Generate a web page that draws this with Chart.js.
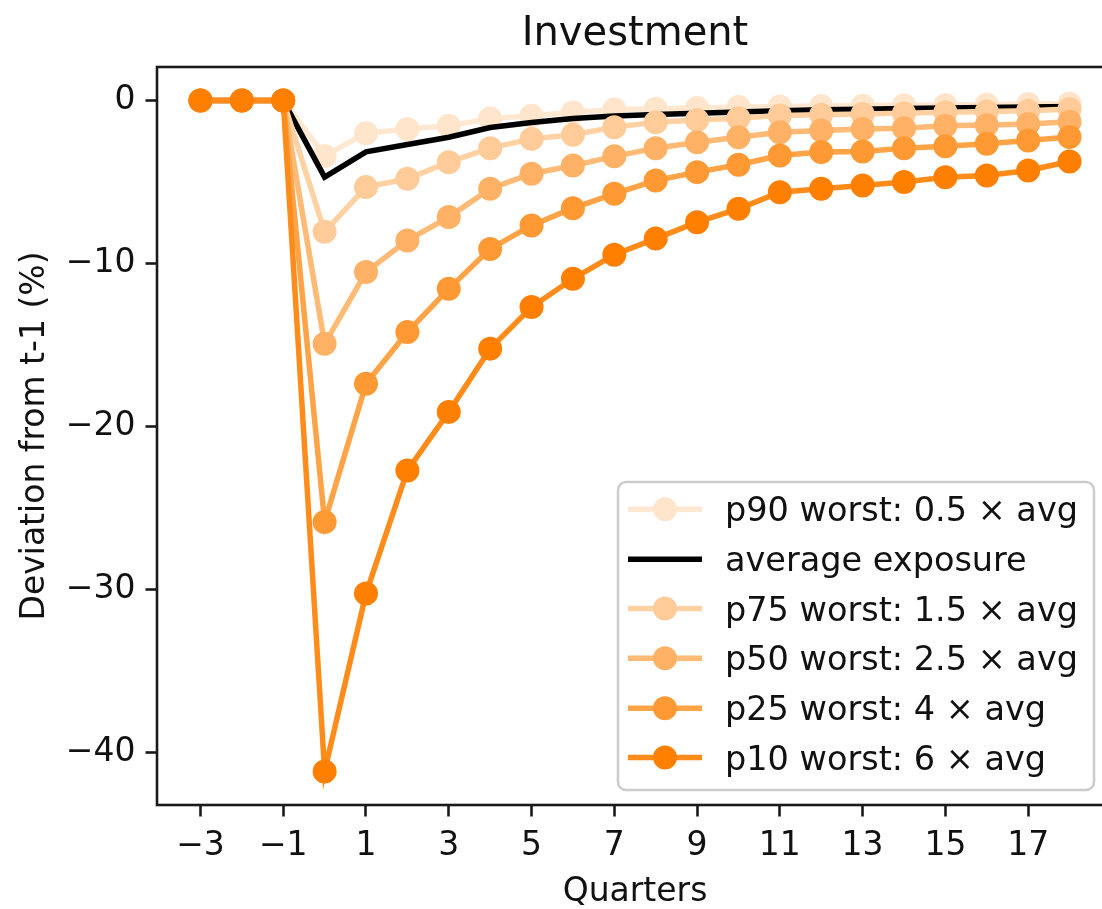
<!DOCTYPE html>
<html>
<head>
<meta charset="utf-8">
<script src="https://cdn.jsdelivr.net/npm/chart.js@4/dist/chart.umd.min.js"></script>
<style>
  html, body { margin: 0; padding: 0; background: #ffffff; overflow: hidden; }
  #wrap { width: 1140px; height: 909px; }
</style>
</head>
<body>
<div id="wrap"><canvas id="c" width="1140" height="909"></canvas></div>
<script>
// ---- data ----
const quarters = [-3, -2, -1, 0, 1, 2, 3, 4, 5, 6, 7, 8, 9, 10, 11, 12, 13, 14, 15, 16, 17, 18];
const p90 = [0, 0, 0, -3.4, -2.0, -1.75, -1.55, -1.1, -0.93, -0.73, -0.55, -0.5, -0.45, -0.4, -0.37, -0.34, -0.31, -0.29, -0.27, -0.24, -0.21, -0.18];
const avgExposure = [0, 0, 0, -4.7, -3.15, -2.7, -2.25, -1.65, -1.34, -1.1, -0.95, -0.86, -0.78, -0.7, -0.62, -0.57, -0.53, -0.49, -0.46, -0.43, -0.4, -0.36];
const p75 = [0, 0, 0, -8.05, -5.31, -4.8, -3.78, -2.92, -2.35, -2.1, -1.63, -1.33, -1.19, -1.08, -0.92, -0.87, -0.82, -0.77, -0.72, -0.67, -0.62, -0.52];
const p50 = [0, 0, 0, -14.92, -10.52, -8.58, -7.15, -5.41, -4.49, -3.99, -3.42, -2.92, -2.56, -2.25, -1.95, -1.84, -1.74, -1.7, -1.54, -1.5, -1.44, -1.3];
const p25 = [0, 0, 0, -25.85, -17.37, -14.2, -11.55, -9.1, -7.66, -6.6, -5.72, -4.9, -4.39, -3.94, -3.37, -3.16, -3.13, -2.92, -2.8, -2.65, -2.45, -2.24];
const p10 = [0, 0, 0, -41.16, -30.25, -22.69, -19.1, -15.22, -12.67, -10.93, -9.46, -8.47, -7.46, -6.64, -5.62, -5.41, -5.21, -5.0, -4.7, -4.6, -4.29, -3.74];
const xTicks = [-3, -1, 1, 3, 5, 7, 9, 11, 13, 15, 17];
const yTicks = [0, -10, -20, -30, -40];
const seriesLabels = ['p90 worst: 0.5 \u00d7 avg', 'average exposure', 'p75 worst: 1.5 \u00d7 avg', 'p50 worst: 2.5 \u00d7 avg', 'p25 worst: 4 \u00d7 avg', 'p10 worst: 6 \u00d7 avg'];
const titleText = 'Investment';
const xTitle = 'Quarters';
const yTitle = 'Deviation from t-1 (%)';

// ---- styles ----
const FONT = '"DejaVu Sans", "Liberation Sans", sans-serif';
function orange(a) { // opaque blend of (255,127,0) over white
  const r = 255, g = Math.round(255 - a * 128), b = Math.round(255 - a * 255);
  return `rgb(${r},${g},${b})`;
}
const alphas = [0.2, null, 0.4, 0.6, 0.8, 1.0];
const seriesValues = [p90, avgExposure, p75, p50, p25, p10];
const drawOrder = [5, 4, 3, 2, 1, 0];

const datasets = seriesValues.map((vals, i) => {
  const a = alphas[i];
  const isAvg = a === null;
  const mk = isAvg ? '#000000' : orange(a);
  const ln = isAvg ? '#000000' : orange(a * 0.9);
  return {
    label: seriesLabels[i],
    data: quarters.map((q, k) => ({ x: q, y: vals[k] })),
    borderColor: ln,
    backgroundColor: mk,
    borderWidth: 5.5,
    pointRadius: isAvg ? 0 : 10.5,
    pointBorderWidth: isAvg ? 0 : 3,
    pointBorderColor: mk,
    pointBackgroundColor: mk,
    pointHoverRadius: isAvg ? 0 : 10.5,
    tension: 0,
    fill: false,
    order: drawOrder[i],
    _marker: !isAvg,
    _markerColor: mk
  };
});

const minusFmt = v => (v < 0 ? '\u2212' + Math.abs(v) : String(v));

const decor = {
  id: 'decor',
  beforeDraw(chart) {
    const ctx = chart.ctx;
    ctx.save();
    ctx.fillStyle = '#ffffff';
    ctx.fillRect(0, 0, chart.width, chart.height);
    ctx.restore();
  },
  afterDraw(chart) {
    const ctx = chart.ctx;
    const ca = chart.chartArea;
    ctx.save();
    // spines
    ctx.strokeStyle = '#1a1a1a';
    ctx.lineWidth = 2.6;
    ctx.strokeRect(ca.left, ca.top, ca.right - ca.left, ca.bottom - ca.top);
    // title
    ctx.fillStyle = '#111111';
    ctx.textAlign = 'center';
    ctx.textBaseline = 'alphabetic';
    ctx.font = '40px ' + FONT;
    const cx = (ca.left + ca.right) / 2;
    ctx.fillText(titleText, cx, 45);
    // x title
    ctx.font = '33px ' + FONT;
    ctx.fillText(xTitle, cx, 901);
    // y title
    ctx.save();
    ctx.translate(43.5, (ca.top + ca.bottom) / 2);
    ctx.rotate(-Math.PI / 2);
    ctx.fillText(yTitle, 0, 0);
    ctx.restore();
    // legend
    const L = 618, T = 482, R = 1094, B = 790, rad = 8;
    ctx.beginPath();
    ctx.moveTo(L + rad, T);
    ctx.lineTo(R - rad, T); ctx.arcTo(R, T, R, T + rad, rad);
    ctx.lineTo(R, B - rad); ctx.arcTo(R, B, R - rad, B, rad);
    ctx.lineTo(L + rad, B); ctx.arcTo(L, B, L, B - rad, rad);
    ctx.lineTo(L, T + rad); ctx.arcTo(L, T, L + rad, T, rad);
    ctx.closePath();
    ctx.fillStyle = 'rgba(255,255,255,0.8)';
    ctx.fill();
    ctx.strokeStyle = '#cccccc';
    ctx.lineWidth = 2.5;
    ctx.stroke();
    const rows = [509.3, 559.3, 608.6, 658.3, 708.3, 757.6];
    chart.data.datasets.forEach((ds, i) => {
      const y = rows[i];
      ctx.strokeStyle = ds.borderColor;
      ctx.lineWidth = 5.5;
      ctx.beginPath();
      ctx.moveTo(628, y);
      ctx.lineTo(702, y);
      ctx.stroke();
      if (ds._marker) {
        ctx.fillStyle = ds._markerColor;
        ctx.beginPath();
        ctx.arc(665, y, 12, 0, Math.PI * 2);
        ctx.fill();
      }
      ctx.fillStyle = '#111111';
      ctx.textAlign = 'left';
      ctx.textBaseline = 'alphabetic';
      ctx.font = '33.5px ' + FONT;
      ctx.fillText(ds.label, 725, y + 12);
    });
    ctx.restore();
  }
};

new Chart(document.getElementById('c'), {
  type: 'line',
  data: { datasets },
  options: {
    responsive: false,
    animation: false,
    devicePixelRatio: 1,
    layout: { padding: { top: 67, left: 0, right: 27, bottom: 0 } },
    plugins: {
      legend: { display: false },
      title: { display: false },
      tooltip: { enabled: false }
    },
    scales: {
      x: {
        type: 'linear',
        min: -4.05,
        max: 19.05,
        afterBuildTicks: s => { s.ticks = xTicks.map(v => ({ value: v })); },
        afterFit: s => { s.height = 104; },
        grid: { display: true, drawOnChartArea: false, drawTicks: true, tickLength: 11.5, tickWidth: 2.6, tickColor: '#1a1a1a' },
        border: { display: false },
        ticks: {
          autoSkip: false, maxRotation: 0, padding: 10,
          color: '#111111',
          font: { family: FONT, size: 33 },
          callback: v => minusFmt(v)
        }
      },
      y: {
        type: 'linear',
        min: -43.22,
        max: 2.06,
        afterBuildTicks: s => { s.ticks = yTicks.map(v => ({ value: v })); },
        afterFit: s => { s.width = 157; },
        grid: { display: true, drawOnChartArea: false, drawTicks: true, tickLength: 11.5, tickWidth: 2.6, tickColor: '#1a1a1a' },
        border: { display: false },
        ticks: {
          autoSkip: false, padding: 10,
          color: '#111111',
          font: { family: FONT, size: 33 },
          callback: v => minusFmt(v)
        }
      }
    }
  },
  plugins: [decor]
});
</script>
</body>
</html>
